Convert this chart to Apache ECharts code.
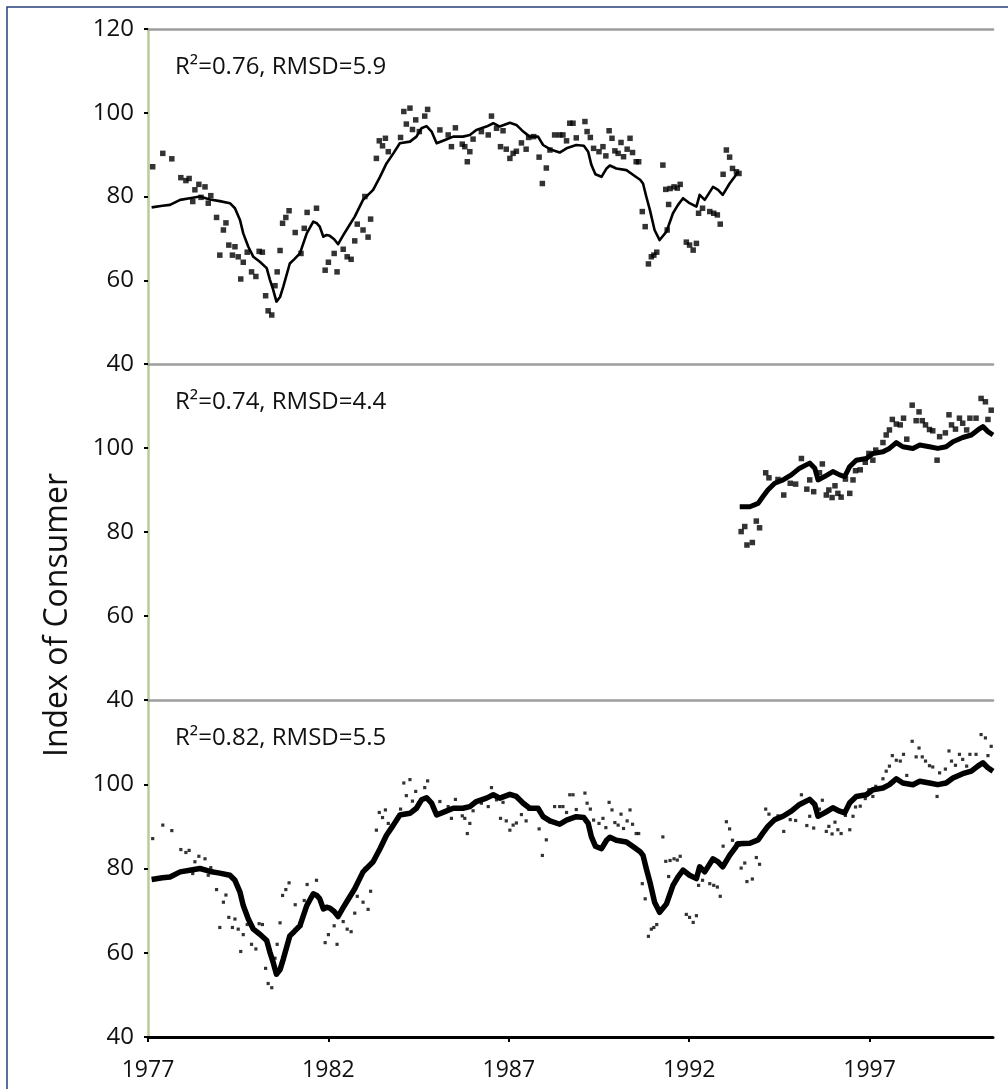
<!DOCTYPE html>
<html><head><meta charset="utf-8">
<script src="https://cdn.jsdelivr.net/npm/echarts@6/dist/echarts.min.js"></script>
<style>html,body{margin:0;padding:0;background:#fff}#chart{width:1008px;height:1089px}</style>
</head><body><div id="chart"></div>
<script>
// ---- data ----
const xTicks = [1977, 1982, 1987, 1992, 1997];
const xMin = 1977, xMax = 2000.42;
const yMin = 40, yMax = 120, yStep = 20;
const axisTitle = 'Index of Consumer';
const fitLabels = ['R\u00b2=0.76, RMSD=5.9', 'R\u00b2=0.74, RMSD=4.4', 'R\u00b2=0.82, RMSD=5.5'];

// monthly survey index, 1977 - mid 1993 (top panel)
const surveyEarly = [
 [1977.13,87.1],[1977.41,90.3],[1977.66,89.0],[1977.91,84.5],[1978.05,83.8],[1978.14,84.3],[1978.24,78.8],
 [1978.30,81.6],[1978.41,82.9],[1978.47,79.8],[1978.58,82.3],[1978.67,78.4],[1978.74,80.2],[1978.90,75.0],
 [1978.99,66.0],[1979.09,72.0],[1979.16,73.7],[1979.24,68.4],[1979.34,66.0],[1979.41,68.0],[1979.50,65.6],
 [1979.57,60.3],[1979.64,64.3],[1979.75,66.7],[1979.87,62.0],[1979.99,60.9],[1980.08,66.9],[1980.17,66.7],
 [1980.26,56.3],[1980.33,52.7],[1980.43,51.7],[1980.52,58.7],[1980.58,62.0],[1980.66,67.1],[1980.73,73.6],
 [1980.82,75.0],[1980.91,76.6],[1981.08,71.4],[1981.24,66.4],[1981.33,72.4],[1981.41,76.2],[1981.67,77.2],
 [1981.91,62.4],[1982.00,64.3],[1982.16,66.4],[1982.24,62.0],[1982.41,67.4],[1982.52,65.6],[1982.63,65.0],
 [1982.73,69.4],[1982.80,73.4],[1982.96,72.0],[1983.01,80.0],[1983.10,70.3],[1983.17,74.6],[1983.33,89.1],
 [1983.41,93.3],[1983.50,92.1],[1983.58,93.9],[1983.66,90.7],[1984.00,94.1],[1984.09,100.3],[1984.16,97.3],
 [1984.26,101.1],[1984.33,96.0],[1984.42,98.3],[1984.52,95.5],[1984.67,99.2],[1984.75,100.8],[1985.09,95.9],
 [1985.32,94.7],[1985.41,91.9],[1985.52,96.4],[1985.71,92.5],[1985.78,91.9],[1985.85,88.3],[1985.92,90.7],
 [1986.01,93.7],[1986.24,95.5],[1986.43,94.7],[1986.52,99.2],[1986.66,96.3],[1986.77,91.9],[1986.84,95.7],
 [1986.93,91.3],[1987.03,89.1],[1987.12,90.3],[1987.21,90.8],[1987.35,92.8],[1987.48,91.3],[1987.55,94.1],
 [1987.69,94.3],[1987.84,89.4],[1987.93,83.1],[1988.04,86.8],[1988.14,91.1],[1988.27,94.7],[1988.41,94.7],
 [1988.50,94.7],[1988.60,93.3],[1988.69,97.5],[1988.78,97.5],[1988.87,94.0],[1989.11,97.9],[1989.17,95.5],
 [1989.26,94.1],[1989.35,91.5],[1989.50,90.7],[1989.61,91.9],[1989.69,89.7],[1989.78,95.7],[1989.86,93.9],
 [1989.94,90.9],[1990.03,90.3],[1990.11,92.9],[1990.18,89.5],[1990.28,91.3],[1990.36,93.9],[1990.43,90.5],
 [1990.53,88.3],[1990.60,88.3],[1990.70,76.4],[1990.78,72.8],[1990.87,63.9],[1990.95,65.6],[1991.02,66.0],
 [1991.10,66.7],[1991.27,87.5],[1991.35,81.7],[1991.39,72.0],[1991.43,78.1],[1991.47,81.9],[1991.58,82.3],
 [1991.67,82.0],[1991.75,82.9],[1991.92,69.1],[1992.01,68.4],[1992.11,67.2],[1992.20,68.8],[1992.26,76.0],
 [1992.37,77.2],[1992.57,76.4],[1992.68,76.0],[1992.78,75.6],[1992.86,73.4],[1992.94,85.3],[1993.03,91.1],
 [1993.12,89.4],[1993.20,86.7],[1993.31,85.9],[1993.38,85.5]
];
// model estimate, 1977 - mid 1993
const modelEarly = [
 [1977.10,77.4],[1977.40,77.8],[1977.61,78.0],[1977.89,79.2],[1978.16,79.6],[1978.44,80.0],[1978.60,79.6],
 [1978.72,79.3],[1978.99,78.9],[1979.27,78.4],[1979.41,77.2],[1979.55,74.4],[1979.64,71.2],[1979.78,68.0],
 [1979.92,65.6],[1980.10,64.4],[1980.29,62.9],[1980.38,60.1],[1980.47,57.7],[1980.56,54.9],[1980.66,56.0],
 [1980.75,58.5],[1980.93,64.0],[1981.05,65.0],[1981.21,66.4],[1981.40,71.2],[1981.58,74.0],[1981.68,73.6],
 [1981.76,72.8],[1981.86,70.4],[1981.95,70.8],[1982.04,70.6],[1982.16,69.8],[1982.27,68.6],[1982.40,70.6],
 [1982.50,72.0],[1982.73,75.2],[1982.96,79.2],[1983.24,81.6],[1983.43,84.7],[1983.61,87.9],[1983.80,90.3],
 [1983.98,92.7],[1984.26,93.1],[1984.44,94.3],[1984.58,96.3],[1984.72,96.8],[1984.86,95.5],[1985.00,92.7],
 [1985.23,93.5],[1985.46,94.3],[1985.73,94.3],[1985.92,94.7],[1986.10,95.9],[1986.38,96.7],[1986.57,97.5],
 [1986.75,96.7],[1987.03,97.6],[1987.21,97.1],[1987.40,95.5],[1987.58,94.3],[1987.81,94.3],[1987.95,92.3],
 [1988.14,91.3],[1988.41,90.5],[1988.60,91.5],[1988.87,92.3],[1989.08,92.1],[1989.20,90.7],[1989.29,87.5],
 [1989.40,85.3],[1989.57,84.7],[1989.71,86.7],[1989.80,87.4],[1989.98,86.7],[1990.26,86.3],[1990.49,84.9],
 [1990.64,84.0],[1990.72,83.1],[1990.81,80.0],[1990.91,76.8],[1991.04,72.0],[1991.18,69.6],[1991.37,71.6],
 [1991.55,76.0],[1991.69,78.0],[1991.83,79.6],[1992.01,78.4],[1992.20,77.6],[1992.29,80.4],[1992.43,79.2],
 [1992.66,82.3],[1992.80,81.6],[1992.93,80.4],[1993.12,83.1],[1993.26,84.7],[1993.35,85.9]
];
// monthly survey index, mid 1993 - 2000 (middle panel)
const surveyLate = [
 [1993.44,80.1],[1993.54,81.3],[1993.60,76.9],[1993.75,77.5],[1993.86,82.6],[1993.95,81.0],[1994.12,94.1],
 [1994.21,92.9],[1994.46,92.5],[1994.62,88.8],[1994.80,91.6],[1994.95,91.4],[1995.11,97.5],[1995.26,90.2],
 [1995.34,92.4],[1995.45,89.6],[1995.61,94.1],[1995.69,96.2],[1995.80,88.8],[1995.87,90.0],[1995.96,88.2],
 [1996.04,91.0],[1996.12,89.2],[1996.21,88.3],[1996.33,92.6],[1996.45,89.2],[1996.54,92.4],[1996.61,94.6],
 [1996.74,94.8],[1996.88,96.6],[1996.98,98.7],[1997.09,97.1],[1997.17,99.5],[1997.37,101.3],[1997.46,103.1],
 [1997.55,104.3],[1997.63,106.8],[1997.74,105.7],[1997.85,105.5],[1997.94,107.1],[1998.03,102.1],[1998.18,110.2],
 [1998.29,106.5],[1998.37,108.6],[1998.46,106.5],[1998.55,105.5],[1998.66,104.4],[1998.75,104.1],[1998.87,97.1],
 [1998.94,102.7],[1999.10,103.6],[1999.20,107.9],[1999.27,105.5],[1999.38,104.5],[1999.49,107.1],[1999.58,105.9],
 [1999.69,104.3],[1999.78,107.1],[1999.95,107.1],[2000.09,111.8],[2000.21,111.0],[2000.28,106.8],[2000.37,109.0]
];
// model estimate, mid 1993 - 2000
const modelLate = [
 [1993.40,86.0],[1993.68,86.0],[1993.91,86.8],[1994.04,88.4],[1994.18,90.0],[1994.37,91.6],[1994.60,92.4],
 [1994.83,93.6],[1995.06,95.2],[1995.34,96.4],[1995.48,95.2],[1995.57,92.4],[1995.75,93.2],[1995.98,94.4],
 [1996.17,93.6],[1996.31,93.2],[1996.45,95.6],[1996.63,97.1],[1996.91,97.5],[1997.09,98.7],[1997.37,99.1],
 [1997.55,99.9],[1997.74,101.3],[1997.92,100.3],[1998.20,99.9],[1998.39,100.7],[1998.66,100.3],[1998.89,99.9],
 [1999.12,100.3],[1999.31,101.5],[1999.58,102.5],[1999.82,103.1],[2000.00,104.3],[2000.14,105.1],[2000.28,103.9],
 [2000.42,103.1]
];

// ---- chart ----
const FONT = '"Open Sans", "Noto Sans", sans-serif';
const panels = [
  { top: 29, height: 335, survey: surveyEarly, model: modelEarly, dot: 5.5, lw: 2.6 },
  { top: 364, height: 336, survey: surveyLate, model: modelLate, dot: 5.5, lw: 5 },
  { top: 700, height: 337, survey: surveyEarly.concat(surveyLate), model: modelEarly.concat(modelLate), dot: 3.2, lw: 5.5 }
];

const grid = panels.map(p => ({ left: 148, right: 15, top: p.top, height: p.height }));

const grayTop = i => ({
  type: 'value', gridIndex: i, position: 'top', min: xMin, max: xMax,
  axisLine: { show: true, lineStyle: { color: '#9d9d9d', width: 2.5 } },
  axisTick: { show: false }, axisLabel: { show: false }, splitLine: { show: false }
});
const isTick = v => xTicks.some(t => Math.abs(t - v) < 1e-6);
const xAxis = [
  grayTop(0), grayTop(1), grayTop(2),
  {
    type: 'value', gridIndex: 2, position: 'bottom', min: xMin, max: xMax, interval: 5,
    axisLine: { show: true, lineStyle: { color: '#000', width: 3 } },
    axisTick: { show: true, length: 5, lineStyle: { color: '#000', width: 2 }, customValues: xTicks },
    axisLabel: { show: true, customValues: xTicks, margin: 22,
      fontFamily: FONT, fontSize: 23, color: '#111', formatter: v => isTick(v) ? String(Math.round(v)) : '' },
    splitLine: { show: false }
  }
];
const yAxis = panels.map((p, i) => ({
  type: 'value', gridIndex: i, min: yMin, max: yMax, interval: yStep,
  axisLine: { show: true, lineStyle: { color: '#b9cd96', width: 2.5 } },
  axisTick: { show: true, length: 4, lineStyle: { color: '#000', width: 2 } },
  axisLabel: { show: true, showMaxLabel: i === 0, margin: 14, fontFamily: FONT, fontSize: 24, color: '#111' },
  splitLine: { show: false }
}));

const series = [];
panels.forEach((p, i) => {
  const xi = i === 2 ? 3 : i;
  series.push({
    type: 'scatter', xAxisIndex: xi, yAxisIndex: i, data: p.survey,
    symbol: 'rect', symbolSize: p.dot, itemStyle: { color: '#000' }, silent: true
  });
  series.push({
    type: 'line', xAxisIndex: xi, yAxisIndex: i, data: p.model,
    showSymbol: false, symbol: 'none', smooth: false,
    lineStyle: { color: '#000', width: p.lw, join: 'round' }, silent: true
  });
});

const title = panels.map((p, i) => ({
  text: fitLabels[i], left: 175, top: p.top + 25, padding: 0,
  textStyle: { fontFamily: FONT, fontSize: 24, fontWeight: 'normal', color: '#111', lineHeight: 26 }
}));

const chart = echarts.init(document.getElementById('chart'), null, { renderer: 'canvas' });
chart.setOption({
  backgroundColor: '#fff',
  animation: false,
  title, grid, xAxis, yAxis, series,
  graphic: [
    { type: 'rect', shape: { x: 7, y: 7, width: 1020, height: 1100 },
      style: { fill: 'transparent', stroke: '#24427a', lineWidth: 1.5 }, silent: true },
    { type: 'text', x: 58, y: 615, rotation: Math.PI / 2,
      style: { text: axisTitle, fontFamily: FONT, fontSize: 32, fill: '#111', align: 'center', verticalAlign: 'middle' },
      silent: true }
  ]
});
</script>
</body></html>
